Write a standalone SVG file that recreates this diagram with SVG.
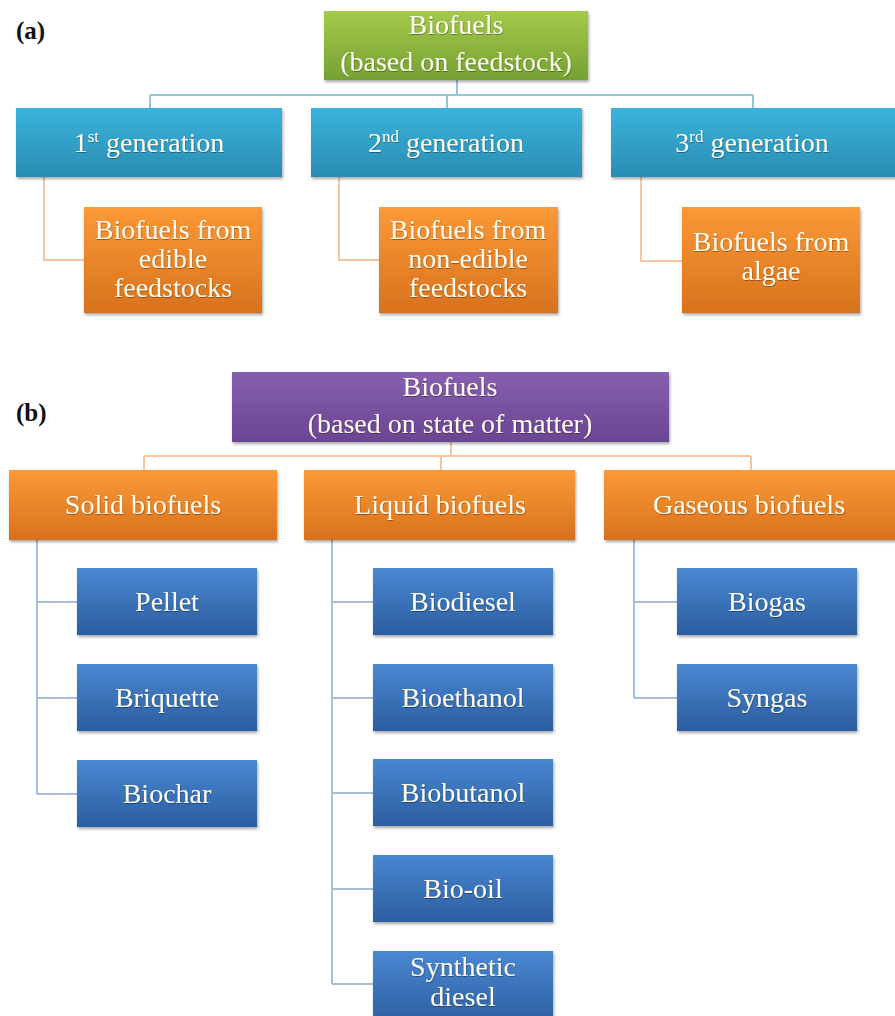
<svg xmlns="http://www.w3.org/2000/svg" width="895" height="1016" viewBox="0 0 895 1016">
<style>
.t{font-family:"Liberation Serif","Times New Roman",serif;font-size:28px;fill:#fdfbee;text-anchor:middle;filter:url(#ts)}
.lab{font-family:"Liberation Serif","Times New Roman",serif;font-size:25px;font-weight:bold;fill:#111}
.sup{font-size:17px}
.box{filter:url(#sh)}
.cb{fill:none;stroke:#93c6d9;stroke-width:2}
.co{fill:none;stroke:#f4c7a2;stroke-width:2}
.cl{fill:none;stroke:#a6bedb;stroke-width:2}
</style>
<defs>
<linearGradient id="gG" x1="0" y1="0" x2="0" y2="1"><stop offset="0" stop-color="#a3ca4b"/><stop offset="1" stop-color="#76a033"/></linearGradient>
<linearGradient id="gT" x1="0" y1="0" x2="0" y2="1"><stop offset="0" stop-color="#3bb3dc"/><stop offset="1" stop-color="#2a8cb2"/></linearGradient>
<linearGradient id="gO" x1="0" y1="0" x2="0" y2="1"><stop offset="0" stop-color="#fb9a37"/><stop offset="1" stop-color="#d8711d"/></linearGradient>
<linearGradient id="gP" x1="0" y1="0" x2="0" y2="1"><stop offset="0" stop-color="#875fb0"/><stop offset="1" stop-color="#6a4592"/></linearGradient>
<linearGradient id="gB" x1="0" y1="0" x2="0" y2="1"><stop offset="0" stop-color="#4a87d2"/><stop offset="1" stop-color="#2b5e9f"/></linearGradient>
<filter id="sh" x="-5%" y="-5%" width="112%" height="120%"><feDropShadow dx="1" dy="2" stdDeviation="1.5" flood-color="#000" flood-opacity="0.35"/></filter>
<filter id="ts" x="-5%" y="-20%" width="110%" height="150%"><feDropShadow dx="0.5" dy="1" stdDeviation="0.6" flood-color="#000" flood-opacity="0.35"/></filter>
</defs>
<rect width="895" height="1016" fill="#ffffff"/>

<text class="lab" x="16" y="39">(a)</text>
<text class="lab" x="16" y="421">(b)</text>

<g id="connectors">
<path class="cb" d="M457,80 V95 M150,95 H753 M150,95 V108 M447,95 V108 M753,95 V108"/>
<path class="co" d="M44,177 V260 H84 M339,177 V260 H379 M641,177 V261 H682"/>
<path class="co" d="M451,442 V456 M144,456 H751 M144,456 V470 M441,456 V470 M751,456 V470"/>
<path class="cl" d="M37,540 V794 M37,602 H77 M37,698 H77 M37,794 H77"/>
<path class="cl" d="M332,540 V984 M332,602 H373 M332,698 H373 M332,793 H373 M332,889 H373 M332,984 H373"/>
<path class="cl" d="M634,540 V698 M634,602 H677 M634,698 H677"/>
</g>

<g id="root-a"><rect class="box" x="324" y="11" width="264" height="69" fill="url(#gG)"/>
<text class="t" x="456" y="34">Biofuels</text><text class="t" x="456" y="71">(based on feedstock)</text></g>

<g id="gen1"><rect class="box" x="16" y="108" width="266" height="69" fill="url(#gT)"/>
<text class="t" x="149" y="152">1<tspan class="sup" dy="-10">st</tspan><tspan dy="10"> generation</tspan></text></g>
<g id="gen2"><rect class="box" x="311" y="108" width="271" height="69" fill="url(#gT)"/>
<text class="t" x="446" y="152">2<tspan class="sup" dy="-10">nd</tspan><tspan dy="10"> generation</tspan></text></g>
<g id="gen3"><rect class="box" x="611" y="108" width="290" height="69" fill="url(#gT)"/>
<text class="t" x="752" y="152">3<tspan class="sup" dy="-10">rd</tspan><tspan dy="10"> generation</tspan></text></g>

<g id="edible"><rect class="box" x="84" y="207" width="178" height="106" fill="url(#gO)"/>
<text class="t" x="173" y="239">Biofuels from</text><text class="t" x="173" y="268">edible</text><text class="t" x="173" y="297">feedstocks</text></g>
<g id="nonedible"><rect class="box" x="379" y="207" width="179" height="106" fill="url(#gO)"/>
<text class="t" x="468" y="239">Biofuels from</text><text class="t" x="468" y="268">non-edible</text><text class="t" x="468" y="297">feedstocks</text></g>
<g id="algae"><rect class="box" x="682" y="207" width="178" height="106" fill="url(#gO)"/>
<text class="t" x="771" y="251">Biofuels from</text><text class="t" x="771" y="280">algae</text></g>

<g id="root-b"><rect class="box" x="232" y="372" width="437" height="70" fill="url(#gP)"/>
<text class="t" x="450" y="396">Biofuels</text><text class="t" x="450" y="433">(based on state of matter)</text></g>

<g id="solid"><rect class="box" x="9" y="470" width="268" height="70" fill="url(#gO)"/><text class="t" x="143" y="514">Solid biofuels</text></g>
<g id="liquid"><rect class="box" x="304" y="470" width="271" height="70" fill="url(#gO)"/><text class="t" x="440" y="514">Liquid biofuels</text></g>
<g id="gaseous"><rect class="box" x="604" y="470" width="300" height="70" fill="url(#gO)"/><text class="t" x="749" y="514">Gaseous biofuels</text></g>

<g id="pellet"><rect class="box" x="77" y="568" width="180" height="67" fill="url(#gB)"/><text class="t" x="167" y="611">Pellet</text></g>
<g id="briquette"><rect class="box" x="77" y="664" width="180" height="67" fill="url(#gB)"/><text class="t" x="167" y="707">Briquette</text></g>
<g id="biochar"><rect class="box" x="77" y="760" width="180" height="67" fill="url(#gB)"/><text class="t" x="167" y="803">Biochar</text></g>

<g id="biodiesel"><rect class="box" x="373" y="568" width="180" height="67" fill="url(#gB)"/><text class="t" x="463" y="611">Biodiesel</text></g>
<g id="bioethanol"><rect class="box" x="373" y="664" width="180" height="67" fill="url(#gB)"/><text class="t" x="463" y="707">Bioethanol</text></g>
<g id="biobutanol"><rect class="box" x="373" y="759" width="180" height="67" fill="url(#gB)"/><text class="t" x="463" y="802">Biobutanol</text></g>
<g id="biooil"><rect class="box" x="373" y="855" width="180" height="67" fill="url(#gB)"/><text class="t" x="463" y="898">Bio-oil</text></g>
<g id="synthetic"><rect class="box" x="373" y="951" width="180" height="75" fill="url(#gB)"/><text class="t" x="463" y="976">Synthetic</text><text class="t" x="463" y="1006">diesel</text></g>

<g id="biogas"><rect class="box" x="677" y="568" width="180" height="67" fill="url(#gB)"/><text class="t" x="767" y="611">Biogas</text></g>
<g id="syngas"><rect class="box" x="677" y="664" width="180" height="67" fill="url(#gB)"/><text class="t" x="767" y="707">Syngas</text></g>
</svg>
